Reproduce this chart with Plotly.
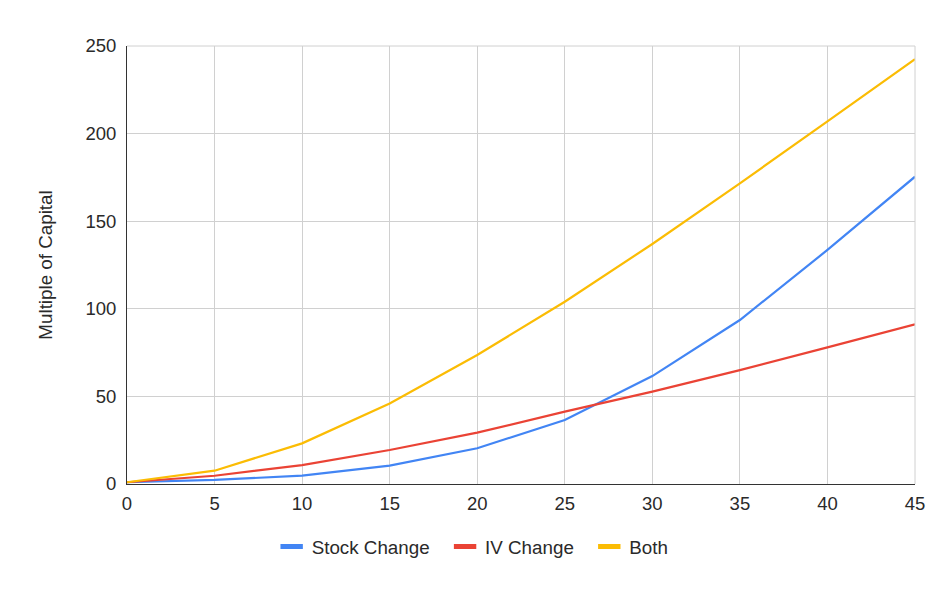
import plotly.graph_objects as go

x_vals = [0, 5, 10, 15, 20, 25, 30, 35, 40, 45]
stock_change = [1, 2.3, 4.8, 10.5, 20.4, 36.5, 61.6, 93.6, 133.6, 175.4]
iv_change = [1, 4.7, 10.8, 19.4, 29.3, 41.3, 52.7, 65, 78, 91.1]
both = [1, 7.6, 23.2, 46, 73.6, 104, 137, 171.6, 207, 242.5]
y_ticks = [0, 50, 100, 150, 200, 250]

series = [
    ("Stock Change", stock_change, "#4285F4"),
    ("IV Change", iv_change, "#EA4335"),
    ("Both", both, "#FBBC04"),
]

fig = go.Figure()
for name, ys, color in series:
    fig.add_trace(go.Scatter(x=x_vals, y=ys, name=name, mode="lines",
                             line=dict(color=color, width=2.2), showlegend=False))
# legend entries with short thick bars
for name, ys, color in series:
    fig.add_trace(go.Scatter(x=[None], y=[None], name=name + "\u00a0\u00a0", mode="markers",
                             marker=dict(symbol="line-ew", size=18, color=color,
                                         line=dict(color=color, width=5)),
                             showlegend=True))

font_family = "Liberation Sans, Arial, sans-serif"
fig.update_layout(
    width=951, height=593,
    margin=dict(l=127, r=36, t=46, b=109),
    paper_bgcolor="white", plot_bgcolor="white",
    font=dict(family=font_family, size=18.5, color="#2a2a2a"),
    showlegend=True,
    legend=dict(orientation="h", x=0.445, xanchor="center", y=-0.1, yanchor="top",
                font=dict(size=18.8, color="#2a2a2a"), itemwidth=30),
    xaxis=dict(range=[0, 45], tickmode="array", tickvals=x_vals,
               showgrid=True, gridcolor="#d0d0d0", gridwidth=1,
               showline=True, linecolor="#333333", linewidth=1,
               zeroline=False, ticks="", tickfont=dict(size=18.5), ticklabelstandoff=3),
    yaxis=dict(range=[0, 250], tickmode="array", tickvals=y_ticks,
               showgrid=True, gridcolor="#d0d0d0", gridwidth=1,
               showline=True, linecolor="#333333", linewidth=1,
               zeroline=False, ticks="", tickfont=dict(size=18.5), ticklabelstandoff=6,
               title=dict(text="Multiple of Capital", font=dict(size=18.8), standoff=27)),
)
fig.add_shape(type="line", xref="paper", yref="paper", x0=1, x1=1, y0=0, y1=1,
              line=dict(color="#d0d0d0", width=1))
fig.add_shape(type="line", xref="paper", yref="paper", x0=0, x1=1, y0=1, y1=1,
              line=dict(color="#d0d0d0", width=1))

fig.write_html("out.html")
